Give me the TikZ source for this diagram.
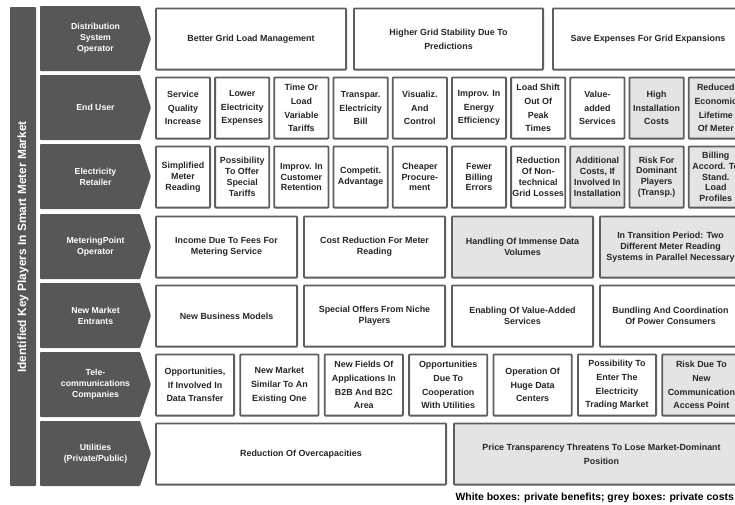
\documentclass[tikz,border=0pt]{standalone}
\usepackage{fontspec}
\setmainfont{Liberation Sans}
\definecolor{darkfill}{HTML}{575757}
\definecolor{boxline}{HTML}{5E5E5E}
\definecolor{costfill}{HTML}{E4E4E4}
\definecolor{boxtext}{HTML}{262626}
\tikzset{
  x=1pt, y=-1pt,
  cellbase/.style={draw=boxline, line width=1.8pt, rounded corners=0.8pt,
    align=center, inner sep=1pt, text=boxtext, minimum height=61.2pt},
  wide/.style={font=\fontsize{8.9}{13.8}\selectfont\bfseries},
  tight/.style={font=\fontsize{8.9}{10.8}\selectfont\bfseries},
  benefit/.style={cellbase, fill=white},
  cost/.style={cellbase, fill=costfill},
  playerlabel/.style={text=white, align=center, inner sep=0pt,
    font=\fontsize{8.7}{11}\selectfont\bfseries},
  playershape/.style={fill=darkfill, rounded corners=0.8pt},
}
% \cell{style}{name}{centre x}{outer width}{centre y}{text}
\newcommand\cell[6]{\node[#1, minimum width={#4-1.8}] (#2) at (#3,#5) {#6};}
% \player{name}{top y}{bottom y}{label}
\newcommand\player[4]{%
  \fill[playershape] (40,#2) -- (140,#2) -- (151,{(#2+#3)/2}) -- (140,#3) -- (40,#3) -- cycle;
  \node[playerlabel] (#1) at (95.5,{(#2+#3)/2}) {#4};}
\begin{document}
\begin{tikzpicture}
\useasboundingbox (0,0) rectangle (735,504);
\clip (0,0) rectangle (735,504);

% vertical title bar
\fill[darkfill, rounded corners=0.8pt] (10,7) rectangle (36,486);
\node[rotate=90, text=white, inner sep=0pt, font=\fontsize{11.9}{14}\selectfont\bfseries]
  (title) at (23,247) {Identified Key Players In Smart Meter Market};

% player arrows
\player{dso}{6}{71}{Distribution\\System\\Operator}
\player{user}{75}{140}{End User}
\player{retail}{144}{209}{Electricity\\Retailer}
\player{mpo}{214}{279}{MeteringPoint\\Operator}
\player{entrant}{283}{348}{New Market\\Entrants}
\player{telco}{352}{417}{Tele-\\communications\\Companies}
\player{util}{421}{486}{Utilities\\(Private/Public)}

% Distribution System Operator
\cell{benefit,wide}{dso1}{251}{192}{39}{Better Grid Load Management}
\cell{benefit,wide}{dso2}{448.5}{191}{39}{Higher Grid Stability Due To\\Predictions}
\cell{benefit,wide}{dso3}{648}{192}{39}{Save Expenses For Grid Expansions}

% End User
\cell{benefit,wide}{eu1}{183}{56}{108}{Service\\Quality\\Increase}
\cell{benefit,wide}{eu2}{242.2}{56}{108}{Lower\\Electricity\\Expenses}
\cell{benefit,wide}{eu3}{301.4}{56}{108}{Time Or\\Load\\Variable\\Tariffs}
\cell{benefit,wide}{eu4}{360.6}{56}{108}{Transpar.\\Electricity\\Bill}
\cell{benefit,wide}{eu5}{419.8}{56}{108}{Visualiz.\\And\\Control}
\cell{benefit,wide}{eu6}{479}{56}{108}{Improv. In\\Energy\\Efficiency}
\cell{benefit,wide}{eu7}{538.2}{56}{108}{Load Shift\\Out Of\\Peak\\Times}
\cell{benefit,wide}{eu8}{597.4}{56}{108}{Value-\\added\\Services}
\cell{cost,wide}{eu9}{656.6}{56}{108}{High\\Installation\\Costs}
\cell{cost,wide}{eu10}{715.8}{56}{108}{Reduced\\Economic\\Lifetime\\Of Meter}

% Electricity Retailer
\cell{benefit,tight}{er1}{183}{56}{177}{Simplified\\Meter\\Reading}
\cell{benefit,tight}{er2}{242.2}{56}{177}{Possibility\\To Offer\\Special\\Tariffs}
\cell{benefit,tight}{er3}{301.4}{56}{177}{Improv. In\\Customer\\Retention}
\cell{benefit,tight}{er4}{360.6}{56}{177}{Competit.\\Advantage}
\cell{benefit,tight}{er5}{419.8}{56}{177}{Cheaper\\Procure-\\ment}
\cell{benefit,tight}{er6}{479}{56}{177}{Fewer\\Billing\\Errors}
\cell{benefit,tight}{er7}{538.2}{56}{177}{Reduction\\Of Non-\\technical\\Grid Losses}
\cell{cost,tight}{er8}{597.4}{56}{177}{Additional\\Costs, If\\Involved In\\Installation}
\cell{cost,tight}{er9}{656.6}{56}{177}{Risk For\\Dominant\\Players\\(Transp.)}
\cell{cost,tight}{er10}{715.8}{56}{177}{Billing\\Accord. To\\Stand.\\Load\\Profiles}

% MeteringPoint Operator
\cell{benefit,tight}{mp1}{226.5}{143}{247}{Income Due To Fees For\\Metering Service}
\cell{benefit,tight}{mp2}{374.5}{143}{247}{Cost Reduction For Meter\\Reading}
\cell{cost,tight}{mp3}{522.5}{143}{247}{Handling Of Immense Data\\Volumes}
\cell{cost,tight}{mp4}{670.5}{143}{247}{In Transition Period: Two\\Different Meter Reading\\Systems in Parallel Necessary}

% New Market Entrants
\cell{benefit,tight}{nm1}{226.5}{143}{316}{New Business Models}
\cell{benefit,tight}{nm2}{374.5}{143}{316}{Special Offers From Niche\\Players}
\cell{benefit,tight}{nm3}{522.5}{143}{316}{Enabling Of Value-Added\\Services}
\cell{benefit,tight}{nm4}{670.5}{143}{316}{Bundling And Coordination\\Of Power Consumers}

% Telecommunications Companies
\cell{benefit,wide}{tc1}{195}{80}{385}{Opportunities,\\If Involved In\\Data Transfer}
\cell{benefit,wide}{tc2}{279.4}{80}{385}{New Market\\Similar To An\\Existing One}
\cell{benefit,wide}{tc3}{363.8}{80}{385}{New Fields Of\\Applications In\\B2B And B2C\\Area}
\cell{benefit,wide}{tc4}{448.2}{80}{385}{Opportunities\\Due To\\Cooperation\\With Utilities}
\cell{benefit,wide}{tc5}{532.6}{80}{385}{Operation Of\\Huge Data\\Centers}
\cell{benefit,wide}{tc6}{617}{80}{385}{Possibility To\\Enter The\\Electricity\\Trading Market}
\cell{cost,wide}{tc7}{701.4}{80}{385}{Risk Due To\\New\\Communication\\Access Point}

% Utilities
\cell{benefit,wide}{ut1}{301}{292}{454}{Reduction Of Overcapacities}
\cell{cost,wide}{ut2}{601.5}{297}{454}{Price Transparency Threatens To Lose Market-Dominant\\Position}

% legend
\node[anchor=base east, inner sep=0pt, text=black, font=\fontsize{10.4}{12}\selectfont\bfseries]
  (legend) at (734,500) {White boxes: private benefits; grey boxes: private costs};
\end{tikzpicture}
\end{document}
